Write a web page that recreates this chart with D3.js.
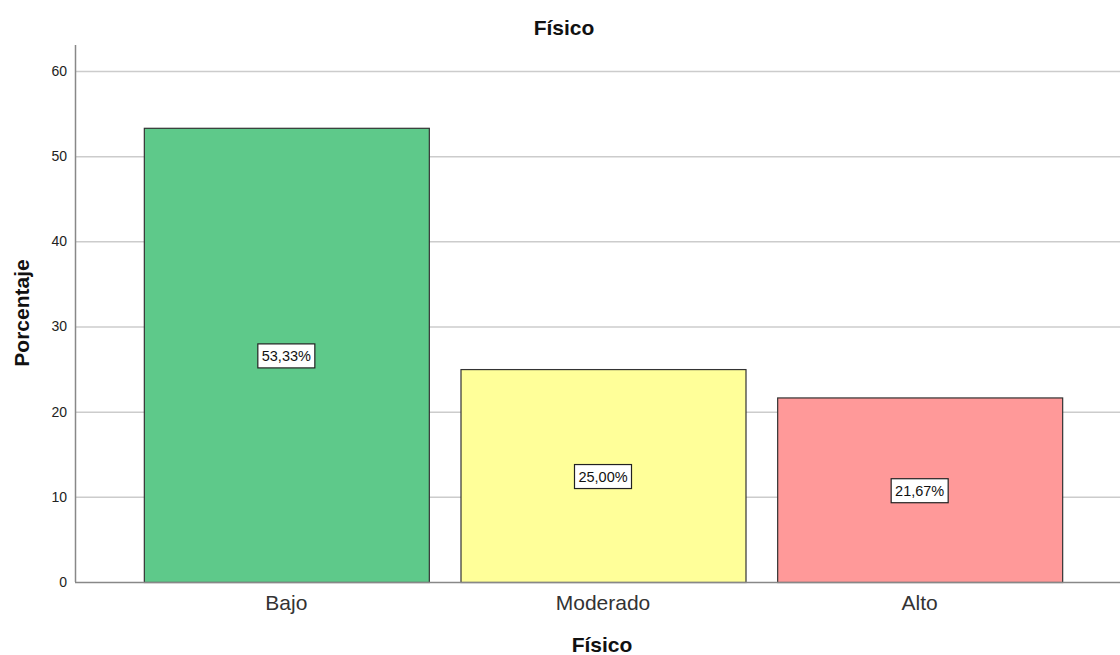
<!DOCTYPE html>
<html><head><meta charset="utf-8">
<script src="https://cdn.jsdelivr.net/npm/d3@7"></script>
<style>body{margin:0;background:#fff}svg{display:block}text{font-family:"Liberation Sans",Arial,sans-serif}</style>
</head><body><svg id="c" width="1120" height="655"></svg>
<script>
const categories = ["Bajo","Moderado","Alto"];
const values = [53.33, 25.00, 21.67];
const labels = ["53,33%","25,00%","21,67%"];
const colors = ["#5ec98a","#ffff99","#ff9999"];
const yTicks = [0,10,20,30,40,50,60];

const svg = d3.select("#c");
const x0 = 75, x1 = 1120, yTop = 45, yBase = 582;
const y = d3.scaleLinear().domain([0,60]).range([yBase,71]);
const x = d3.scaleBand().domain(categories).range([128,1078]).paddingInner(0.1).paddingOuter(0.05);

// gridlines
svg.append("g").selectAll("line").data(yTicks.filter(d=>d>0)).join("line")
  .attr("x1",x0).attr("x2",x1).attr("y1",d=>y(d)+0.5).attr("y2",d=>y(d)+0.5)
  .attr("stroke","#cccccc").attr("stroke-width",1.5);

// y axis
const ya = svg.append("g").attr("transform",`translate(${x0},0)`)
  .call(d3.axisLeft(y).tickValues(yTicks).tickSize(0).tickPadding(8));
ya.select(".domain").remove();
ya.selectAll("text").attr("font-size",14).attr("fill","#222");
svg.append("line").attr("x1",x0+0.5).attr("x2",x0+0.5).attr("y1",yTop).attr("y2",yBase)
  .attr("stroke","#888").attr("stroke-width",1.5);

// bars
svg.append("g").selectAll("rect").data(values).join("rect")
  .attr("x",(d,i)=>x(categories[i])+0.5).attr("width",x.bandwidth())
  .attr("y",d=>y(d)+0.5).attr("height",d=>yBase-y(d))
  .attr("fill",(d,i)=>colors[i]).attr("stroke","#333").attr("stroke-width",1.2);

// baseline
svg.append("line").attr("x1",x0).attr("x2",x1).attr("y1",yBase+0.5).attr("y2",yBase+0.5)
  .attr("stroke","#888").attr("stroke-width",1.5);

// x axis labels
svg.append("g").attr("transform",`translate(0,${yBase})`)
  .call(d3.axisBottom(x).tickSize(0).tickPadding(13))
  .call(g=>g.select(".domain").remove())
  .selectAll("text").attr("font-size",21).attr("fill","#333");

// value labels
const lg = svg.append("g").selectAll("g").data(values).join("g")
  .attr("transform",(d,i)=>`translate(${x(categories[i])+x.bandwidth()/2},${y(d/2)+1})`);
lg.append("rect").attr("x",-28.5).attr("y",-12).attr("width",57).attr("height",24)
  .attr("fill","#fff").attr("stroke","#222").attr("stroke-width",1.2);
lg.append("text").text((d,i)=>labels[i]).attr("text-anchor","middle").attr("dy","0.36em")
  .attr("font-size",14.5).attr("fill","#111");

// titles
svg.append("text").text("Físico").attr("x",564).attr("y",35).attr("text-anchor","middle")
  .attr("font-size",21).attr("font-weight","bold").attr("fill","#111");
svg.append("text").text("Físico").attr("x",602).attr("y",652).attr("text-anchor","middle")
  .attr("font-size",21).attr("font-weight","bold").attr("fill","#111");
svg.append("text").text("Porcentaje").attr("transform","translate(29,313) rotate(-90)")
  .attr("text-anchor","middle").attr("font-size",21).attr("font-weight","bold").attr("fill","#111");
</script></body></html>
